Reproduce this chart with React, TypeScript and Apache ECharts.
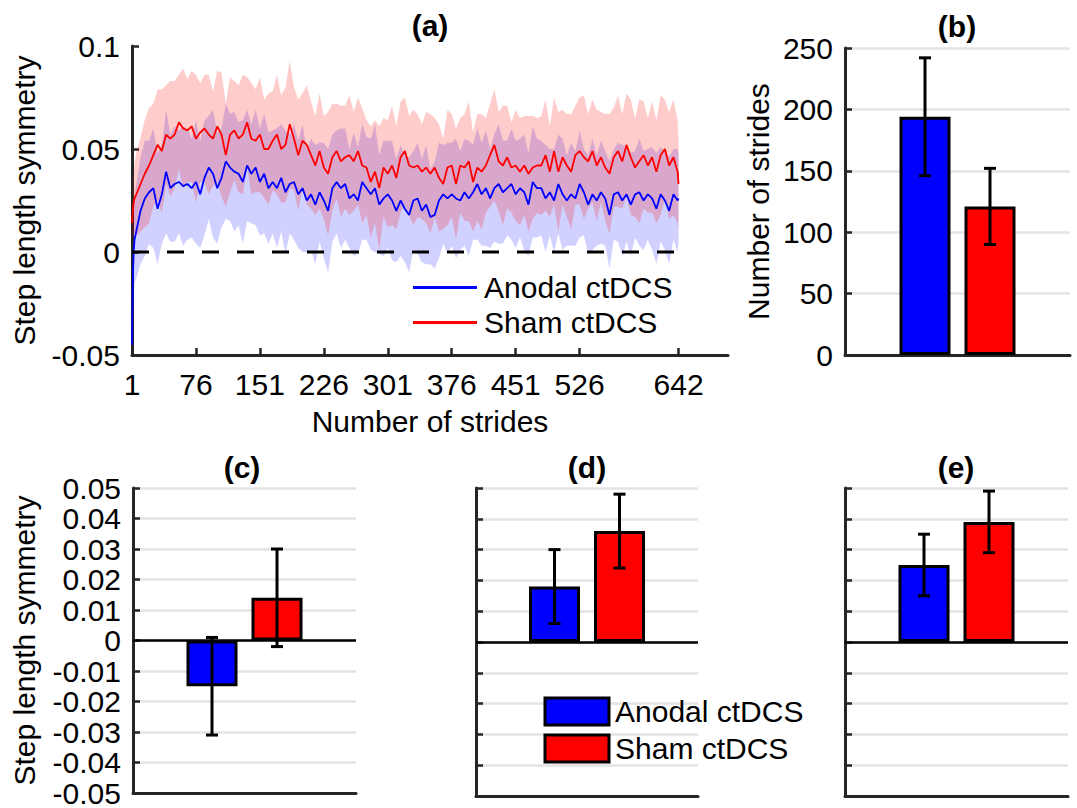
import React, { useEffect, useRef } from 'react';
import * as echarts from 'echarts';

// ---------- Panel (a): time course ----------
const strides = [1, 2, 3, 4, ...Array.from({ length: 128 }, (_, i) => 6 + 5 * i), 642];
const strideTicks = [1, 76, 151, 226, 301, 376, 451, 526, 642];

const shamMean = [
  0.014, 0.020, 0.024, 0.026,
  0.028, 0.033, 0.038, 0.042, 0.047, 0.052, 0.049, 0.057, 0.055, 0.057,
  0.063, 0.060, 0.059, 0.061, 0.055, 0.058, 0.060, 0.057, 0.055, 0.061,
  0.057, 0.047, 0.057, 0.059, 0.055, 0.057, 0.063, 0.055, 0.054, 0.057, 0.050,
  0.050, 0.054, 0.057, 0.050, 0.052, 0.062, 0.055, 0.047, 0.054, 0.052,
  0.047, 0.042, 0.049, 0.041, 0.038, 0.046, 0.049, 0.044, 0.046, 0.047,
  0.044, 0.049, 0.042, 0.041, 0.034, 0.039, 0.031, 0.041, 0.038, 0.042, 0.036, 0.046,
  0.049, 0.042, 0.041, 0.042, 0.039, 0.041, 0.038, 0.041, 0.036, 0.033,
  0.041, 0.042, 0.033, 0.042, 0.041, 0.044, 0.034, 0.041, 0.039, 0.042,
  0.047, 0.052, 0.044, 0.042, 0.046, 0.041, 0.042, 0.039, 0.042, 0.038, 0.041, 0.042,
  0.042, 0.047, 0.039, 0.049, 0.039, 0.046, 0.042, 0.039, 0.047, 0.049,
  0.046, 0.044, 0.049, 0.042, 0.046, 0.041, 0.038, 0.046, 0.049, 0.044,
  0.052, 0.046, 0.041, 0.044, 0.047, 0.042, 0.046, 0.039, 0.047, 0.050, 0.042, 0.046, 0.039,
  0.033,
];

const anodalMean = [
  -0.045, -0.012, 0.000, 0.006,
  0.010, 0.020, 0.026, 0.029, 0.031, 0.021, 0.028, 0.039, 0.031, 0.033,
  0.034, 0.032, 0.033, 0.031, 0.034, 0.028, 0.036, 0.041, 0.038, 0.031,
  0.036, 0.044, 0.041, 0.039, 0.038, 0.034, 0.042, 0.038, 0.041, 0.034, 0.038,
  0.031, 0.034, 0.031, 0.036, 0.029, 0.033, 0.034, 0.028, 0.031, 0.025,
  0.028, 0.023, 0.029, 0.025, 0.020, 0.031, 0.034, 0.031, 0.033, 0.026,
  0.028, 0.025, 0.034, 0.031, 0.028, 0.031, 0.023, 0.026, 0.028, 0.025, 0.020, 0.025,
  0.021, 0.018, 0.025, 0.026, 0.020, 0.023, 0.017, 0.018, 0.025, 0.028,
  0.026, 0.028, 0.026, 0.025, 0.029, 0.026, 0.029, 0.033, 0.028, 0.031,
  0.026, 0.031, 0.033, 0.029, 0.031, 0.033, 0.028, 0.031, 0.029, 0.023, 0.034, 0.031,
  0.031, 0.026, 0.029, 0.025, 0.033, 0.028, 0.025, 0.028, 0.026, 0.033,
  0.029, 0.023, 0.028, 0.025, 0.029, 0.026, 0.018, 0.028, 0.029, 0.025,
  0.028, 0.023, 0.028, 0.029, 0.025, 0.028, 0.026, 0.021, 0.028, 0.025, 0.020, 0.028, 0.025,
  0.026,
];

const shamSd = [
  0.008, 0.012, 0.015, 0.017,
  0.020, 0.023, 0.026, 0.028, 0.025, 0.027, 0.030, 0.024, 0.028, 0.026,
  0.023, 0.029, 0.025, 0.027, 0.031, 0.024, 0.026, 0.029, 0.023, 0.027,
  0.030, 0.025, 0.028, 0.024, 0.026, 0.029, 0.022, 0.027, 0.025, 0.028, 0.024,
  0.027, 0.024, 0.029, 0.026, 0.028, 0.031, 0.025, 0.027, 0.023, 0.029,
  0.026, 0.024, 0.028, 0.025, 0.030, 0.026, 0.023, 0.027, 0.025, 0.029,
  0.024, 0.026, 0.028, 0.023, 0.027, 0.025, 0.030, 0.024, 0.026, 0.029, 0.025, 0.027,
  0.026, 0.024, 0.028, 0.025, 0.023, 0.027, 0.029, 0.024, 0.026, 0.022,
  0.028, 0.025, 0.027, 0.023, 0.026, 0.029, 0.024, 0.026, 0.028, 0.023,
  0.025, 0.027, 0.024, 0.029, 0.025, 0.022, 0.027, 0.026, 0.024, 0.028, 0.025, 0.023,
  0.024, 0.027, 0.022, 0.026, 0.029, 0.023, 0.025, 0.028, 0.024, 0.026,
  0.030, 0.023, 0.025, 0.027, 0.022, 0.026, 0.029, 0.024, 0.027, 0.023,
  0.025, 0.028, 0.024, 0.030, 0.026, 0.023, 0.027, 0.025, 0.029, 0.024, 0.026, 0.028, 0.025,
  0.022,
];

const anodalSd = [
  0.012, 0.016, 0.019, 0.021,
  0.023, 0.026, 0.028, 0.025, 0.029, 0.027, 0.024, 0.030, 0.026, 0.028,
  0.025, 0.029, 0.027, 0.024, 0.030, 0.026, 0.028, 0.025, 0.031, 0.027,
  0.024, 0.028, 0.026, 0.029, 0.025, 0.030, 0.027, 0.024, 0.028, 0.026, 0.029,
  0.027, 0.025, 0.029, 0.026, 0.030, 0.024, 0.028, 0.026, 0.031, 0.025,
  0.027, 0.029, 0.024, 0.028, 0.030, 0.026, 0.025, 0.029, 0.027, 0.024,
  0.030, 0.026, 0.028, 0.025, 0.027, 0.031, 0.024, 0.028, 0.026, 0.029, 0.025, 0.027,
  0.026, 0.028, 0.024, 0.027, 0.025, 0.029, 0.023, 0.026, 0.028, 0.024,
  0.027, 0.025, 0.029, 0.024, 0.026, 0.028, 0.023, 0.027, 0.025, 0.028,
  0.024, 0.026, 0.029, 0.025, 0.023, 0.027, 0.026, 0.024, 0.028, 0.025, 0.027, 0.024,
  0.023, 0.026, 0.021, 0.025, 0.024, 0.027, 0.022, 0.025, 0.023, 0.026,
  0.021, 0.024, 0.027, 0.022, 0.025, 0.023, 0.026, 0.022, 0.024, 0.027,
  0.023, 0.025, 0.021, 0.026, 0.024, 0.022, 0.025, 0.027, 0.023, 0.024, 0.026, 0.022, 0.025,
  0.022,
];

// ---------- Panels (b)-(e): group means ± error ----------
const groups = ['Anodal ctDCS', 'Sham ctDCS'];
const stridesMean = [194, 121];
const stridesErr = [48, 31];
const symmetryC = [-0.015, 0.014];
const symmetryCErr = [0.016, 0.016];
const symmetryD = [0.018, 0.036];
const symmetryDErr = [0.012, 0.012];
const symmetryE = [0.025, 0.039];
const symmetryEErr = [0.010, 0.010];

const BLUE = '#0000ff';
const RED = '#ff0000';
const AX = '#262626';
const FONT = "'Liberation Sans', Arial, Helvetica, sans-serif";
const FS = 30;
const BAR_W = 51;
const BAR_GAP_PX = 14;
const BAR_PITCH = BAR_W + BAR_GAP_PX;

const axisLineStyle = { show: true, onZero: false, lineStyle: { color: AX, width: 3 } };
const tickIn = { show: true, inside: true, length: 7, lineStyle: { color: AX, width: 2.5 } };
const labelStyle = { color: '#000', fontSize: FS, fontFamily: FONT };
const gridLine = { show: true, lineStyle: { color: '#e3e3e3', width: 2.5 } };

const fmtSym = (v: number) => (Math.abs(v) < 1e-9 ? '0' : v.toFixed(2));
const fmtA = (v: number) => (Math.abs(v) < 1e-9 ? '0' : String(parseFloat(v.toFixed(2))));

function bandSeries(mean: number[], sd: number[], fill: string) {
  return {
    type: 'custom',
    xAxisIndex: 0,
    yAxisIndex: 0,
    clip: true,
    silent: true,
    data: [[strides[0], mean[0]]],
    renderItem: (_p: any, api: any) => {
      const upper = strides.map((s, i) => api.coord([s, mean[i] + sd[i]]));
      const lower = strides.map((s, i) => api.coord([s, mean[i] - sd[i]])).reverse();
      return { type: 'polygon', shape: { points: upper.concat(lower) }, style: { fill } };
    },
  };
}

function lineSeries(name: string, mean: number[], color: string) {
  return {
    type: 'line',
    name,
    xAxisIndex: 0,
    yAxisIndex: 0,
    data: strides.map((s, i) => [s, mean[i]]),
    showSymbol: false,
    symbol: 'none',
    silent: true,
    clip: true,
    lineStyle: { color, width: 1.8 },
    itemStyle: { color },
  };
}

function barSeries(axis: number, means: number[], zeroLine: boolean) {
  return groups.map((name, g) => ({
    type: 'bar',
    name,
    xAxisIndex: axis,
    yAxisIndex: axis,
    data: [means[g]],
    barWidth: BAR_W,
    barGap: `${(BAR_GAP_PX / BAR_W) * 100}%`,
    silent: true,
    itemStyle: { color: g === 0 ? BLUE : RED, borderColor: '#000', borderWidth: 3 },
    markLine:
      zeroLine && g === 0
        ? {
            silent: true,
            symbol: 'none',
            label: { show: false },
            lineStyle: { color: '#000', width: 2.5, type: 'solid' },
            data: [{ yAxis: 0 }],
          }
        : undefined,
  }));
}

function errorSeries(axis: number, means: number[], errs: number[]) {
  return {
    type: 'custom',
    xAxisIndex: axis,
    yAxisIndex: axis,
    silent: true,
    z: 5,
    data: means.map((m, i) => [0, m, errs[i], i]),
    renderItem: (_p: any, api: any) => {
      const m = api.value(1);
      const e = api.value(2);
      const g = api.value(3);
      const cx = api.coord([0, m])[0] + (g === 0 ? -1 : 1) * (BAR_PITCH / 2);
      const yT = api.coord([0, m + e])[1];
      const yB = api.coord([0, m - e])[1];
      const st = { stroke: '#000', lineWidth: 3 };
      return {
        type: 'group',
        children: [
          { type: 'line', shape: { x1: cx, y1: yT, x2: cx, y2: yB }, style: st },
          { type: 'line', shape: { x1: cx - 6, y1: yT, x2: cx + 6, y2: yT }, style: st },
          { type: 'line', shape: { x1: cx - 6, y1: yB, x2: cx + 6, y2: yB }, style: st },
        ],
      };
    },
  };
}

function catAxis(grid: number) {
  return {
    type: 'category',
    gridIndex: grid,
    data: [''],
    axisLine: axisLineStyle,
    axisTick: { show: false },
    axisLabel: { show: false },
    splitLine: { show: false },
  };
}

function symAxis(grid: number, withLabels: boolean, name?: string) {
  return {
    type: 'value',
    gridIndex: grid,
    min: -0.05,
    max: 0.05,
    interval: 0.01,
    axisLine: axisLineStyle,
    axisTick: tickIn,
    axisLabel: { show: withLabels, ...labelStyle, margin: 12, formatter: fmtSym },
    splitLine: gridLine,
    name: name || '',
    nameLocation: 'middle',
    nameGap: 94,
    nameTextStyle: labelStyle,
  };
}

function title(text: string, x: number, y: number) {
  return {
    type: 'text',
    x,
    y,
    silent: true,
    style: {
      text,
      fill: '#000',
      font: `bold ${FS}px ${FONT}`,
      align: 'center',
      verticalAlign: 'middle',
    },
  };
}

export default function App() {
  const ref = useRef<HTMLDivElement>(null);

  useEffect(() => {
    if (!ref.current) return;
    const chart = echarts.init(ref.current, undefined, { renderer: 'svg' });

    const option: any = {
      animation: false,
      backgroundColor: '#fff',
      textStyle: { fontFamily: FONT },
      grid: [
        { left: 132, top: 46, width: 596, height: 309 },
        { left: 845, top: 48, width: 225, height: 307 },
        { left: 133, top: 488, width: 223, height: 308 },
        { left: 476, top: 488, width: 222, height: 308 },
        { left: 845, top: 488, width: 223, height: 308 },
      ],
      xAxis: [
        {
          type: 'value',
          gridIndex: 0,
          min: 1,
          max: 700,
          axisLine: axisLineStyle,
          axisTick: { ...tickIn, customValues: strideTicks },
          axisLabel: { ...labelStyle, margin: 14, customValues: strideTicks },
          splitLine: { show: false },
          name: 'Number of strides',
          nameLocation: 'middle',
          nameGap: 51,
          nameTextStyle: labelStyle,
        },
        catAxis(1),
        catAxis(2),
        catAxis(3),
        catAxis(4),
      ],
      yAxis: [
        {
          type: 'value',
          gridIndex: 0,
          min: -0.05,
          max: 0.1,
          interval: 0.05,
          axisLine: axisLineStyle,
          axisTick: tickIn,
          axisLabel: { ...labelStyle, margin: 12, formatter: fmtA },
          splitLine: { show: false },
          name: 'Step length symmetry',
          nameLocation: 'middle',
          nameGap: 93,
          nameTextStyle: labelStyle,
        },
        {
          type: 'value',
          gridIndex: 1,
          min: 0,
          max: 250,
          interval: 50,
          axisLine: axisLineStyle,
          axisTick: tickIn,
          axisLabel: { ...labelStyle, margin: 12 },
          splitLine: gridLine,
          name: 'Number of strides',
          nameLocation: 'middle',
          nameGap: 72,
          nameTextStyle: labelStyle,
        },
        symAxis(2, true, 'Step length symmetry'),
        symAxis(3, false),
        symAxis(4, false),
      ],
      legend: [
        {
          left: 413,
          top: 272,
          orient: 'vertical',
          padding: 0,
          itemWidth: 64,
          itemHeight: 3,
          itemGap: 4,
          icon: 'rect',
          selectedMode: false,
          textStyle: { ...labelStyle, lineHeight: 31, padding: [0, 0, 0, 2] },
          data: [
            { name: groups[0], icon: 'rect', itemStyle: { color: BLUE, borderWidth: 0 } },
            { name: groups[1], icon: 'rect', itemStyle: { color: RED, borderWidth: 0 } },
          ],
        },
        {
          left: 543.5,
          top: 696,
          orient: 'vertical',
          padding: 0,
          itemWidth: 64,
          itemHeight: 27,
          itemGap: 6,
          icon: 'rect',
          selectedMode: false,
          textStyle: { ...labelStyle, lineHeight: 31, padding: [0, 0, 0, 1] },
          data: [
            { name: groups[0], icon: 'rect', itemStyle: { color: BLUE, borderColor: '#000', borderWidth: 3 } },
            { name: groups[1], icon: 'rect', itemStyle: { color: RED, borderColor: '#000', borderWidth: 3 } },
          ],
        },
      ],
      graphic: [
        title('(a)', 430, 25),
        title('(b)', 957, 26),
        title('(c)', 242, 467),
        title('(d)', 587, 467),
        title('(e)', 956, 467),
      ],
      series: [
        bandSeries(anodalMean, anodalSd, 'rgba(0,0,255,0.18)'),
        lineSeries(groups[0], anodalMean, BLUE),
        bandSeries(shamMean, shamSd, 'rgba(255,0,0,0.2)'),
        lineSeries(groups[1], shamMean, RED),
        {
          type: 'line',
          xAxisIndex: 0,
          yAxisIndex: 0,
          silent: true,
          showSymbol: false,
          symbol: 'none',
          data: [
            [strides[0], 0],
            [strides[strides.length - 1], 0],
          ],
          lineStyle: { color: '#000', width: 3, type: [17, 18] },
          z: 4,
        },
        ...barSeries(1, stridesMean, false),
        errorSeries(1, stridesMean, stridesErr),
        ...barSeries(2, symmetryC, true),
        errorSeries(2, symmetryC, symmetryCErr),
        ...barSeries(3, symmetryD, true),
        errorSeries(3, symmetryD, symmetryDErr),
        ...barSeries(4, symmetryE, true),
        errorSeries(4, symmetryE, symmetryEErr),
      ],
    };

    chart.setOption(option);
    return () => chart.dispose();
  }, []);

  return (
    <div
      ref={ref}
      style={{ position: 'fixed', left: 0, top: 0, width: 1077, height: 808, background: '#fff' }}
    />
  );
}
